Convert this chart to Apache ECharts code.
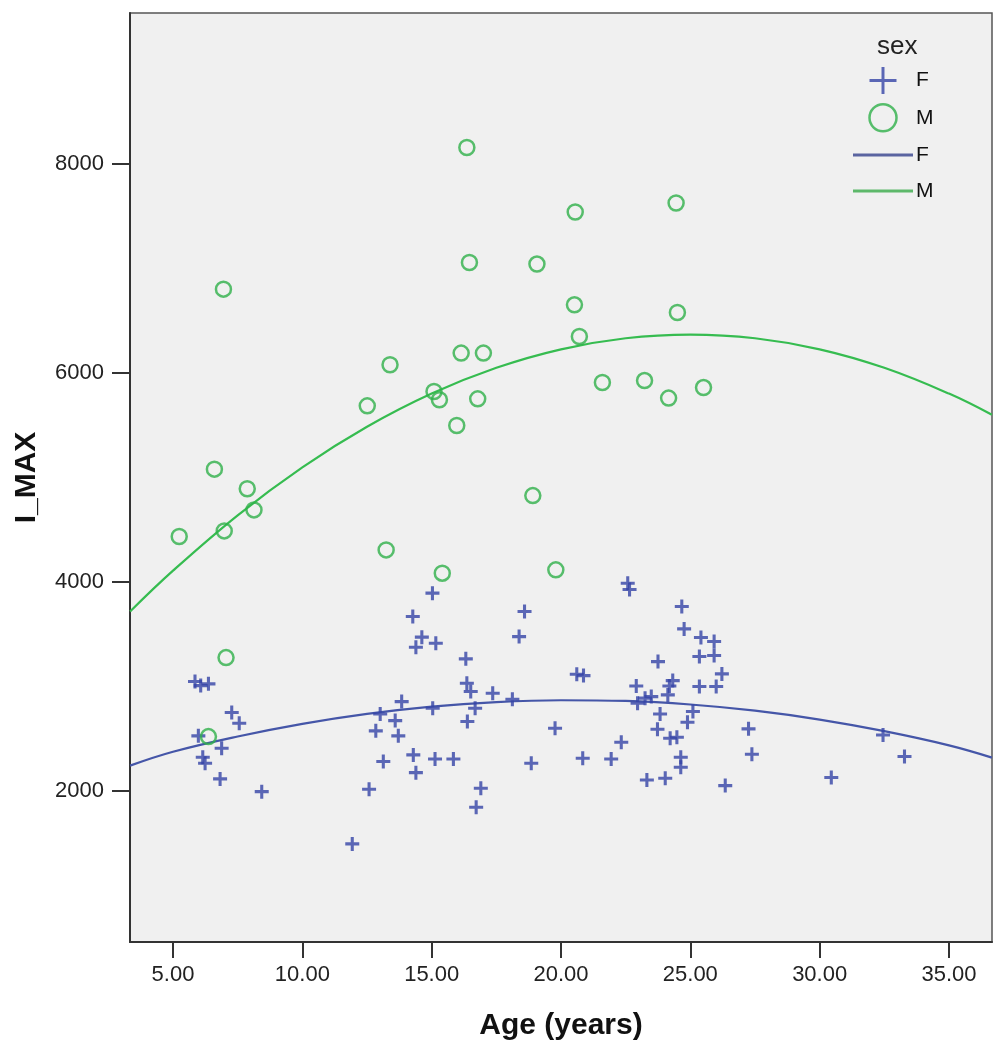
<!DOCTYPE html>
<html>
<head>
<meta charset="utf-8">
<script src="https://cdn.jsdelivr.net/npm/echarts@6/dist/echarts.min.js"></script>
<style>html,body{margin:0;padding:0;background:#fff}#c{width:1006px;height:1050px}</style>
</head>
<body>
<div id="c"></div>
<script>
// ---- data ----
const fAge  = [5.85,6.07,6.37,7.27,7.56,5.98,6.88,6.15,6.24,6.82,8.43,13.01,13.84,13.59,12.84,13.71,13.13,14.29,14.39,12.58,11.93,14.27,14.62,14.39,15.16,15.03,18.59,18.38,22.58,22.65,16.32,16.36,16.51,17.36,18.12,15.04,16.68,16.38,20.61,20.87,19.77,15.13,15.84,18.85,20.84,21.94,22.33,16.90,16.72,23.75,22.91,23.32,24.03,24.67,24.76,25.41,25.92,25.35,25.92,26.22,24.32,24.19,25.35,26.00,24.13,23.49,23.25,22.96,23.83,25.10,24.89,23.73,24.22,24.48,27.25,27.38,24.63,24.63,26.35,32.45,33.28,30.45];
const fImax = [3044,3005,3022,2747,2645,2524,2406,2320,2262,2112,1990,2734,2852,2670,2572,2524,2278,2342,2172,2013,1490,3666,3469,3373,3411,3890,3714,3474,3985,3925,3261,3028,2948,2932,2875,2789,2789,2661,3114,3101,2597,2303,2303,2262,2310,2303,2463,2023,1841,3235,3002,2102,2119,3762,3548,3465,3427,3283,3293,3117,3053,3002,2996,2996,2916,2900,2885,2837,2734,2757,2655,2588,2502,2511,2591,2348,2320,2224,2048,2533,2326,2125];
const mAge  = [6.95,6.60,7.87,8.13,5.24,6.98,7.05,6.37,16.36,20.55,16.46,19.07,20.52,20.71,16.14,17.00,24.45,24.50,13.39,12.51,15.09,15.30,16.78,15.97,21.60,23.23,24.16,25.51,18.91,13.24,15.41,19.80];
const mImax = [6800,5077,4889,4687,4432,4486,3273,2517,8156,7538,7055,7040,6650,6347,6188,6188,7624,6576,6076,5683,5820,5741,5750,5495,5906,5925,5757,5858,4824,4304,4081,4113];
// fit curves
const fitAge = [3.34,5,7.5,10,12.5,15,17.5,20,22.5,25,27.5,30,32.5,35,36.66];
const fitF   = [2239,2372,2518,2639,2734,2804,2847,2865,2858,2824,2765,2680,2569,2433,2316];
const fitM   = [3714,4105,4635,5094,5482,5800,6047,6224,6330,6365,6330,6224,6047,5800,5597];
const xTicks = [5,10,15,20,25,30,35];
const yTicks = [2000,4000,6000,8000];

const BLUE = '#3444A6', GREEN = '#2FB04A', LBLUE = '#4556A8', LGREEN = '#36BC50';
const FONT = '"Liberation Sans", Arial, sans-serif';
const crossPath = 'path://M3.9,0 H6.1 V3.9 H10 V6.1 H6.1 V10 H3.9 V6.1 H0 V3.9 H3.9 Z';
const crossLegend = 'path://M4.45,0 H5.55 V4.45 H10 V5.55 H5.55 V10 H4.45 V5.55 H0 V4.45 H4.45 Z';
const lineIcon = 'path://M0,0 H20 V1 H0 Z';

const zip = (a, b) => a.map((v, i) => [v, b[i]]);

const chart = echarts.init(document.getElementById('c'), null, {renderer: 'canvas'});
chart.setOption({
  animation: false,
  backgroundColor: '#ffffff',
  grid: {left: 130, top: 13, right: 14, bottom: 108, show: true, backgroundColor: '#F0F0F0', borderColor: '#555', borderWidth: 1.5},
  xAxis: {
    type: 'value', min: 3.337, max: 36.663,
    name: 'Age (years)', nameLocation: 'middle', nameGap: 69,
    nameTextStyle: {fontFamily: FONT, fontSize: 30, fontWeight: 'bold', color: '#111'},
    axisLine: {show: true, lineStyle: {color: '#333', width: 2}},
    axisTick: {show: true, length: 16, lineStyle: {color: '#333', width: 2}, customValues: xTicks},
    axisLabel: {fontFamily: FONT, fontSize: 22, color: '#222', margin: 22, customValues: xTicks, formatter: v => v.toFixed(2)},
    splitLine: {show: false}
  },
  yAxis: {
    type: 'value', min: 551, max: 9443,
    name: 'I_MAX', nameLocation: 'middle', nameGap: 88,
    nameTextStyle: {fontFamily: FONT, fontSize: 30, fontWeight: 'bold', color: '#111'},
    axisLine: {show: true, lineStyle: {color: '#333', width: 2}},
    axisTick: {show: true, length: 18, lineStyle: {color: '#333', width: 2}, customValues: yTicks},
    axisLabel: {fontFamily: FONT, fontSize: 22, color: '#222', margin: 26, customValues: yTicks, formatter: v => String(v)},
    splitLine: {show: false}
  },
  legend: {
    orient: 'vertical', left: 853, top: 67, padding: 0, itemWidth: 60, itemHeight: 27, itemGap: 9,
    textStyle: {fontFamily: FONT, fontSize: 21, color: '#111', padding: [0,0,0,-2], lineHeight: 27, height: 27},
    formatter: n => n.replace(' fit', ''),
    data: [
      {name: 'F', icon: crossLegend, itemStyle: {color: BLUE, borderWidth: 0}},
      {name: 'M', icon: 'circle', itemStyle: {color: 'rgba(0,0,0,0)', borderColor: GREEN, borderWidth: 2.5}},
      {name: 'F fit', icon: lineIcon, itemStyle: {color: '#5A64A0', borderWidth: 0}},
      {name: 'M fit', icon: lineIcon, itemStyle: {color: '#5DB86A', borderWidth: 0}}
    ]
  },
  graphic: [{type: 'text', left: 877, top: 34, style: {text: 'sex', font: '26px ' + FONT, fill: '#222'}}],
  series: [
    {name: 'F', type: 'scatter', data: zip(fAge, fImax), symbol: crossPath, symbolSize: 14,
     itemStyle: {color: BLUE}, z: 3},
    {name: 'M', type: 'scatter', data: zip(mAge, mImax), symbol: 'circle', symbolSize: 15,
     itemStyle: {color: 'rgba(0,0,0,0)', borderColor: GREEN, borderWidth: 2.5}, z: 3},
    {name: 'F fit', type: 'line', data: zip(fitAge, fitF), smooth: 0.4, showSymbol: false, symbol: 'none',
     lineStyle: {color: LBLUE, width: 2.2}, itemStyle: {color: LBLUE}, z: 2},
    {name: 'M fit', type: 'line', data: zip(fitAge, fitM), smooth: 0.4, showSymbol: false, symbol: 'none',
     lineStyle: {color: LGREEN, width: 2.2}, itemStyle: {color: LGREEN}, z: 2}
  ]
});
</script>
</body>
</html>
